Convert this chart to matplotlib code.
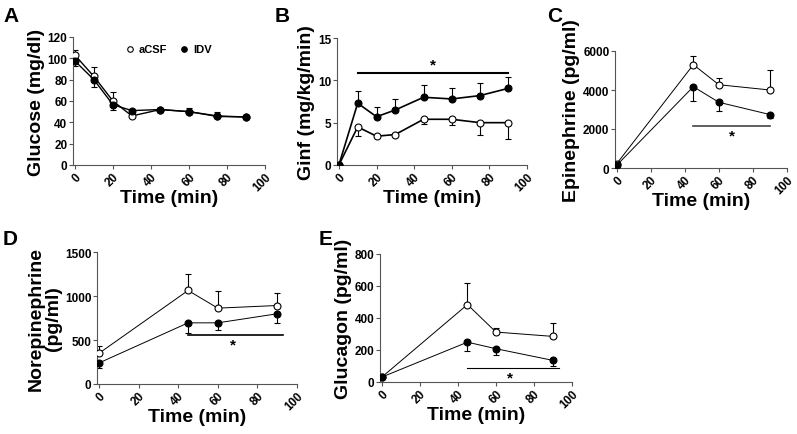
import matplotlib.pyplot as plt

plt.rcParams['font.family'] = ['Liberation Sans', 'DejaVu Sans']
plt.rcParams['font.weight'] = 'bold'

# Panel A - glucose (mg/dl)
t_a = [0, 10, 20, 30, 45, 60, 75, 90]
glu_acsf = [103, 83, 60, 46, 52, 50, 45.5, 45]
glu_acsf_err = [5, 9, 8, 1, 1, 3.5, 4, 1]
glu_idv = [97.5, 80, 56.5, 51, 52, 50, 46, 45]
glu_idv_err = [4.5, 7, 4.5, 1, 1, 1, 1, 1]

# Panel B - Ginf (mg/kg/min)
t_b = [0, 10, 20, 30, 45, 60, 75, 90]
ginf_acsf = [0, 4.5, 3.4, 3.6, 5.4, 5.4, 5.0, 5.0]
ginf_acsf_err = [0, 1.05, 0.1, 0.1, 0.6, 0.7, 1.5, 1.95]
ginf_idv = [0, 7.3, 5.7, 6.5, 8.0, 7.8, 8.2, 9.05]
ginf_idv_err = [0, 1.4, 1.1, 1.3, 1.45, 1.35, 1.5, 1.3]

# Panels C-E - hormones
t_h = [0, 45, 60, 90]
epi_acsf = [220, 5300, 4270, 4000]
epi_acsf_err = [100, 450, 350, 1050]
epi_idv = [140, 4170, 3370, 2740]
epi_idv_err = [60, 750, 460, 170]

ne_acsf = [349, 1063, 862, 892]
ne_acsf_err = [88, 190, 194, 145]
ne_idv = [239, 695, 695, 798]
ne_idv_err = [57, 114, 80, 103]

gcg_acsf = [31, 484, 312, 285]
gcg_acsf_err = [5, 136, 27, 83]
gcg_idv = [31, 249, 208, 135]
gcg_idv_err = [5, 56, 42, 35]

W, H = 797, 435
fig = plt.figure(figsize=(W / 100, H / 100), dpi=100)


def make_ax(x0, x1, ytop, ybot):
    return fig.add_axes([x0 / W, 1 - ybot / H, (x1 - x0) / W, (ybot - ytop) / H])


def style(ax, ylim, yticks, ylabel):
    ax.set_xlim(-1, 100)
    ax.set_ylim(*ylim)
    ax.set_xticks([0, 20, 40, 60, 80, 100])
    ax.set_yticks(yticks)
    for s in ['top', 'right']:
        ax.spines[s].set_visible(False)
    for s in ['left', 'bottom']:
        ax.spines[s].set_color('#555555')
        ax.spines[s].set_linewidth(0.8)
    ax.tick_params(direction='out', length=3, width=0.8, color='#555555',
                   labelsize=8.5, pad=1)
    for lab in ax.get_xticklabels():
        lab.set_rotation(45)
        lab.set_ha('right')
        lab.set_va('top')
        lab.set_rotation_mode('anchor')
        lab.set_fontweight('bold')
    for lab in ax.get_yticklabels():
        lab.set_fontweight('bold')
    ax.set_xlabel('Time (min)', fontsize=14, fontweight='bold', labelpad=-3)
    ax.set_ylabel(ylabel, fontsize=14, fontweight='bold', labelpad=2,
                  linespacing=1.0)


def series(ax, t, y, err, up, filled, lw=1.0):
    yerr = [[0] * len(err), err] if up else [err, [0] * len(err)]
    ax.errorbar(t, y, yerr=yerr, fmt='none', ecolor='black', elinewidth=0.8,
                capsize=2.5, capthick=0.8, zorder=2)
    ax.plot(t, y, color='black', lw=lw, marker='o', ms=5,
            mfc='black' if filled else 'white', mec='black', mew=0.8,
            zorder=3, label='IDV' if filled else 'aCSF')


# A
ax = make_ax(73, 265, 38, 166)
series(ax, t_a, glu_acsf, glu_acsf_err, True, False)
series(ax, t_a, glu_idv, glu_idv_err, False, True)
style(ax, (0, 120), range(0, 121, 20), 'Glucose (mg/dl)')
ax.legend(loc='upper center', bbox_to_anchor=(0.5, 1.02), ncol=2, frameon=False,
          handlelength=0.6, handletextpad=0.5, columnspacing=1.2,
          prop={'size': 8, 'weight': 'bold'}, markerscale=0.8)
for h in ax.get_legend().get_lines():
    h.set_linestyle('none')
fig.text(3 / W, 1 - 16 / H, 'A', fontsize=15, fontweight='bold', va='center')

# B
ax = make_ax(337, 527, 39, 166)
series(ax, t_b, ginf_acsf, ginf_acsf_err, False, False, lw=1.2)
series(ax, t_b, ginf_idv, ginf_idv_err, True, True, lw=1.2)
ax.plot([10, 90], [10.9, 10.9], color='black', lw=1.5)
ax.text(50, 11.1, '*', ha='center', va='bottom', fontsize=11, fontweight='bold')
style(ax, (0, 15), [0, 5, 10, 15], 'Ginf (mg/kg/min)')
fig.text(275 / W, 1 - 16 / H, 'B', fontsize=15, fontweight='bold', va='center')

# C
ax = make_ax(615, 787, 52, 169)
series(ax, t_h, epi_acsf, epi_acsf_err, True, False, lw=0.7)
series(ax, t_h, epi_idv, epi_idv_err, False, True, lw=0.7)
ax.plot([45, 90], [2140, 2140], color='#444444', lw=1.2)
ax.text(67.5, 2050, '*', ha='center', va='top', fontsize=11, fontweight='bold')
style(ax, (0, 6000), [0, 2000, 4000, 6000], 'Epinephrine (pg/ml)')
fig.text(547 / W, 1 - 16 / H, 'C', fontsize=15, fontweight='bold', va='center')

# D
ax = make_ax(97, 297, 253, 385)
series(ax, t_h, ne_acsf, ne_acsf_err, True, False, lw=0.7)
series(ax, t_h, ne_idv, ne_idv_err, False, True, lw=0.7)
ax.plot([45, 93], [558, 558], color='black', lw=1.2)
ax.text(67.5, 530, '*', ha='center', va='top', fontsize=11, fontweight='bold')
style(ax, (0, 1500), [0, 500, 1000, 1500], 'Norepinephrine\n(pg/ml)')
fig.text(3 / W, 1 - 240 / H, 'D', fontsize=15, fontweight='bold', va='center')

# E
ax = make_ax(380, 572, 255, 383)
series(ax, t_h, gcg_acsf, gcg_acsf_err, True, False, lw=0.7)
series(ax, t_h, gcg_idv, gcg_idv_err, False, True, lw=0.7)
ax.plot([45, 93], [87, 87], color='black', lw=0.8)
ax.text(67.5, 75, '*', ha='center', va='top', fontsize=11, fontweight='bold')
style(ax, (0, 800), [0, 200, 400, 600, 800], 'Glucagon (pg/ml)')
fig.text(319 / W, 1 - 240 / H, 'E', fontsize=15, fontweight='bold', va='center')

fig.savefig('out.png', dpi=100)
